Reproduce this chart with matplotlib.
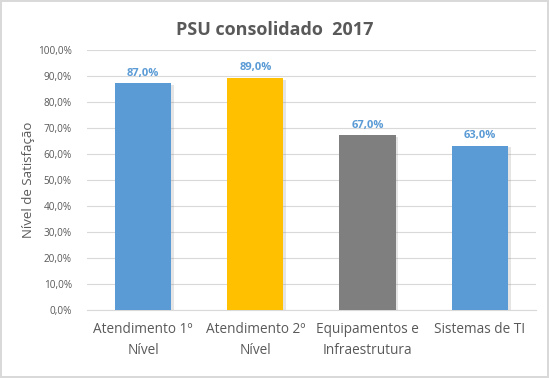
import matplotlib
matplotlib.use("Agg")
import matplotlib.pyplot as plt
import matplotlib.patheffects as pe
from matplotlib.ticker import FuncFormatter

plt.rcParams["font.family"] = ["Open Sans", "DejaVu Sans"]

categorias = ["Atendimento 1º\nNível", "Atendimento 2º\nNível", "Equipamentos e\nInfraestrutura", "Sistemas de TI"]
valores = [87.0, 89.0, 67.0, 63.0]
cores = ["#5B9BD5", "#FFC000", "#7F7F7F", "#5B9BD5"]

cinza = "#595959"

fig = plt.figure(figsize=(5.49, 3.78), dpi=100)
fig.patch.set_edgecolor("#D9D9D9")
fig.patch.set_linewidth(1.5)
ax = fig.add_axes([0.1585, 0.18, 0.8175, 0.689])

x = range(len(categorias))
barras = ax.bar(x, valores, width=0.5, color=cores, zorder=3)
for b in barras:
    b.set_path_effects([pe.SimplePatchShadow(offset=(2, -1), alpha=0.2, shadow_rgbFace="#808080"), pe.Normal()])

for xi, v in zip(x, valores):
    ax.text(xi, v + 1.8, f"{v:.1f}%".replace(".", ","), ha="center", va="bottom",
            fontsize=8, fontweight="bold", color="#5B9BD5")

ax.set_ylim(0, 100)
ax.set_xlim(-0.5, len(categorias) - 0.5)
ax.set_yticks(range(0, 101, 10))
ax.yaxis.set_major_formatter(FuncFormatter(lambda v, p: f"{v:.1f}%".replace(".", ",")))
ax.set_xticks(list(x))
ax.set_xticklabels(categorias, fontsize=9.8, color=cinza, linespacing=1.5)
ax.tick_params(axis="y", labelsize=7.2, colors=cinza, length=0, pad=11)
ax.tick_params(axis="x", length=0, pad=9)
ax.grid(axis="y", color="#D9D9D9", linewidth=0.8, zorder=0)
for s in ["top", "right", "left"]:
    ax.spines[s].set_visible(False)
ax.spines["bottom"].set_color("#D9D9D9")

ax.set_ylabel("Nível de Satisfação", fontsize=9.5, color=cinza, labelpad=2)
fig.text(0.5, 0.92, "PSU consolidado  2017", ha="center", va="center",
         fontsize=13, fontweight="bold", color=cinza)

fig.savefig("out.png", dpi=100)
